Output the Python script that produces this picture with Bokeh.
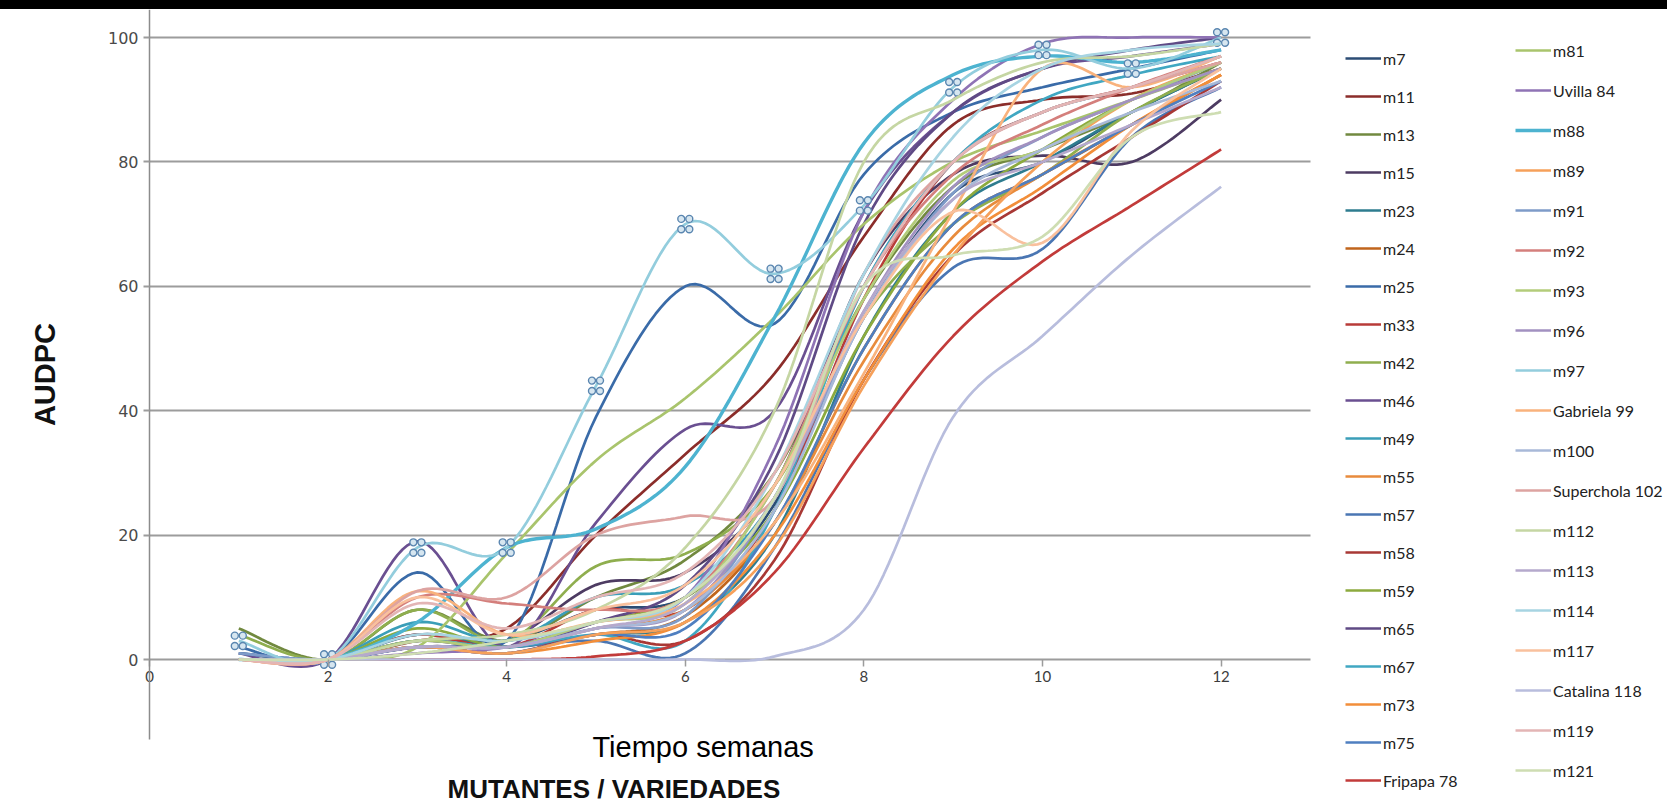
import numpy as np
from bokeh.plotting import figure
from bokeh.layouts import column
from bokeh.models import Range1d, Legend, LegendItem, Label, FixedTicker, Div, Grid
from bokeh.embed import file_html
from bokeh.resources import INLINE

# ---------------- data (AUDPC per week) ----------------
weeks = [1, 2, 3, 4, 5, 6, 7, 8, 9, 10, 11, 12]
x_ticks = [0, 2, 4, 6, 8, 10, 12]
y_ticks = [0, 20, 40, 60, 80, 100]

m7 = [1, 0, 4, 3, 8, 10, 25, 55, 75, 80, 88, 95]
m11 = [0, 0, 3, 5, 20, 33, 46, 68, 86, 90, 91, 95]
m13 = [5, 0, 8, 3, 10, 16, 30, 58, 76, 82, 88, 96]
m15 = [0, 0, 2, 3, 12, 14, 28, 62, 78, 81, 80, 90]
m23 = [0, 0, 4, 2, 4, 6, 20, 52, 72, 80, 88, 95]
m24 = [0, 0, 2, 2, 4, 7, 22, 50, 70, 78, 86, 94]
m25 = [2, 0, 14, 3, 39, 60, 54, 78, 88, 92, 95, 98]
m33 = [0, 0, 4, 2, 8, 8, 24, 58, 80, 88, 92, 96]
m42 = [4, 0, 8, 3, 15, 17, 28, 55, 70, 78, 88, 95]
m46 = [1, 0, 19, 2, 22, 37, 40, 72, 88, 95, 97, 99]
m49 = [0, 0, 6, 3, 10, 12, 26, 60, 80, 88, 92, 97]
m55 = [0, 0, 3, 2, 5, 8, 22, 48, 68, 78, 86, 94]
m57 = [1, 0, 2, 2, 3, 1, 18, 45, 63, 66, 84, 92]
m58 = [0, 0, 2, 1, 4, 3, 16, 45, 65, 75, 84, 93]
m59 = [0, 0, 5, 2, 6, 10, 24, 52, 72, 82, 90, 96]
m65 = [0, 0, 3, 2, 6, 12, 32, 70, 88, 95, 98, 100]
m67 = [0, 0, 3, 2, 4, 3, 24, 60, 80, 90, 94, 97]
m73 = [0, 0, 2, 1, 3, 6, 20, 45, 66, 76, 86, 94]
m75 = [0, 0, 2, 1, 4, 5, 22, 50, 70, 78, 86, 93]
fripapa_78 = [0, 0, 0, 0, 0.5, 3, 14, 34, 52, 64, 73, 82]
m81 = [0, 0, 2, 17, 32, 42, 55, 70, 80, 85, 90, 95]
uvilla_84 = [0, 0, 1, 2, 6, 10, 34, 72, 90, 99, 100, 100]
m88 = [0, 0, 6, 18, 21, 31, 55, 83, 94, 97, 96, 98]
m89 = [0, 0, 2, 1, 4, 6, 18, 44, 65, 80, 90, 96]
m91 = [1, 0, 2, 2, 5, 7, 26, 55, 75, 84, 90, 96]
m92 = [0, 0, 10, 9, 8, 10, 28, 60, 78, 86, 92, 97]
m93 = [0, 0, 3, 2, 6, 9, 28, 58, 77, 82, 90, 96]
m96 = [0, 0, 2, 2, 5, 8, 26, 56, 76, 84, 90, 95]
m97 = [3, 0, 18, 18, 44, 70, 62, 73, 92, 98, 95, 100]
gabriela_99 = [0, 0, 11, 4, 6, 9, 22, 46, 72, 95, 92, 97]
m100 = [0, 0, 2, 2, 5, 8, 24, 55, 74, 82, 88, 93]
superchola_102 = [0, 0, 11, 10, 20, 23, 26, 62, 80, 88, 92, 96]
m112 = [0, 0, 3, 4, 8, 18, 40, 80, 90, 96, 97, 99]
m113 = [0, 0, 2, 2, 5, 9, 26, 56, 74, 80, 86, 92]
m114 = [0, 0, 4, 3, 6, 10, 30, 62, 84, 95, 98, 99]
m117 = [0, 0, 10, 4, 8, 12, 28, 55, 72, 67, 85, 95]
catalina_118 = [0, 0, 0, 0, 0, 0, 0.5, 8, 39, 52, 65, 76]
m119 = [0, 0, 9, 5, 10, 14, 30, 60, 80, 88, 92, 97]
m121 = [0, 0, 1, 3, 6, 10, 26, 60, 65, 68, 84, 88]

names = ["m7", "m11", "m13", "m15", "m23", "m24", "m25", "m33", "m42", "m46",
         "m49", "m55", "m57", "m58", "m59", "m65", "m67", "m73", "m75", "Fripapa 78",
         "m81", "Uvilla 84", "m88", "m89", "m91", "m92", "m93", "m96", "m97",
         "Gabriela 99", "m100", "Superchola 102", "m112", "m113", "m114", "m117",
         "Catalina 118", "m119", "m121"]
series = [m7, m11, m13, m15, m23, m24, m25, m33, m42, m46,
          m49, m55, m57, m58, m59, m65, m67, m73, m75, fripapa_78,
          m81, uvilla_84, m88, m89, m91, m92, m93, m96, m97,
          gabriela_99, m100, superchola_102, m112, m113, m114, m117,
          catalina_118, m119, m121]
colors = ["#2C4D75", "#8B2D2A", "#71893F", "#4D3B62", "#2E7C8F", "#C0651C", "#3A6BA8",
          "#B83B38", "#8FAE4E", "#6A4F91", "#3A9EB8", "#E88B3C", "#4A76B3", "#A83835",
          "#8CAA3E", "#5F4A85", "#40A7C2", "#F28E3A", "#4F7FC0", "#C23B3A",
          "#A9C46C", "#8F73B5", "#4DB3D0", "#F6A05A", "#7E9BC8", "#D47F7C", "#B3CC7A",
          "#A291C0", "#93CDDD", "#F9B27C", "#A8B9D8", "#DDA3A1", "#C5D6A3", "#B5A9CC",
          "#A7D4E2", "#F9C09D", "#B8BDDD", "#E3B5B5", "#CEDDB2"]
selected = "m97"
x_title = "Tiempo semanas"
group_title = "MUTANTES / VARIEDADES"
y_title = "AUDPC"


def smooth(xs, ys, n=18):
    """Excel-style smoothed line (Bezier segments, Catmull-Rom tangents)."""
    pts = np.column_stack([np.asarray(xs, float), np.asarray(ys, float)])
    out = []
    last = len(pts) - 1
    for i in range(last):
        p0 = pts[i - 1] if i > 0 else pts[i]
        p1, p2 = pts[i], pts[i + 1]
        p3 = pts[i + 2] if i + 2 <= last else pts[i + 1]
        c1 = p1 + (p2 - p0) / 6.0
        c2 = p2 - (p3 - p1) / 6.0
        t = np.linspace(0, 1, n, endpoint=(i == last - 1))[:, None]
        seg = ((1 - t) ** 3) * p1 + 3 * ((1 - t) ** 2) * t * c1 + 3 * (1 - t) * t ** 2 * c2 + t ** 3 * p2
        out.append(seg)
    arr = np.vstack(out)
    return arr[:, 0], arr[:, 1]


# ---------------- geometry (page pixels) ----------------
PAGE_W = 1667
BAR = 9                     # black strip at the top of the page
H = 797                     # figure height (below the strip)
OX, OY = 149, 659           # pixel position of the origin (0, 0)
SX, SY = 89.3, 6.22         # pixels per unit on x and y
X0, X1 = -OX / SX, (PAGE_W - OX) / SX
Y0, Y1 = (OY - (BAR + H)) / SY, (OY - BAR) / SY
X_END = 13.0                # right end of the gridlines
Y_LOW = -12.9               # lower end of the y axis line

p = figure(width=PAGE_W, height=H, x_range=Range1d(X0, X1), y_range=Range1d(Y0, Y1),
           output_backend="svg", toolbar_location=None,
           min_border_left=0, min_border_right=0, min_border_top=0, min_border_bottom=0)
p.outline_line_color = None
p.background_fill_color = "white"
p.border_fill_color = "white"

# grid (horizontal lines only, limited to the chart area)
p.xgrid.grid_line_color = None
yg = p.ygrid[0]
yg.ticker = FixedTicker(ticks=y_ticks)
if "cross_bounds" in Grid.properties():
    yg.cross_bounds = (0, X_END)
    yg.grid_line_color = "#9c9c9c"
    yg.grid_line_width = 2
else:
    yg.grid_line_color = None
    p.segment(x0=[0] * len(y_ticks), x1=[X_END] * len(y_ticks), y0=y_ticks, y1=y_ticks,
              line_color="#9c9c9c", line_width=2)

# y axis at x = 0
ya = p.yaxis[0]
ya.fixed_location = 0
ya.bounds = (Y_LOW, Y1)
ya.ticker = FixedTicker(ticks=y_ticks)
ya.axis_line_color = "#8c8c8c"
ya.axis_line_width = 1.5
ya.major_tick_line_color = "#9c9c9c"
ya.major_tick_line_width = 2
ya.major_tick_out = 6
ya.major_tick_in = 0
ya.minor_tick_line_color = None
ya.major_label_standoff = 5
ya.major_label_text_font = "DejaVu Sans"
ya.major_label_text_font_size = "16px"
ya.major_label_text_color = "#4a4a4a"
ya.axis_label = y_title
ya.axis_label_text_font = "Liberation Sans"
ya.axis_label_text_font_style = "bold"
ya.axis_label_text_font_size = "29px"
ya.axis_label_text_color = "#111111"
ya.axis_label_standoff = 44

# x axis crossing at y = 0
xa = p.xaxis[0]
xa.fixed_location = 0
xa.bounds = (0, 12)
xa.ticker = FixedTicker(ticks=x_ticks)
xa.axis_line_color = None
xa.major_tick_line_color = "#9c9c9c"
xa.major_tick_line_width = 1.5
xa.major_tick_out = 7
xa.major_tick_in = 0
xa.minor_tick_line_color = None
xa.major_label_standoff = 4
xa.major_label_text_font = "Lato"
xa.major_label_text_font_size = "15px"
xa.major_label_text_color = "#3c3c3c"

# series
items = []
for name, ys, col in zip(names, series, colors):
    sx, sy = smooth(weeks, ys)
    lw = 3.4 if name == "m88" else 2.7
    r = p.line(sx, sy, line_color=col, line_width=lw)
    items.append(LegendItem(label=name, renderers=[r]))
    if name == selected:
        dx = 4.0 / SX
        dy = 5.2 / SY
        for ox in (-dx, dx):
            for oy in (-dy, dy):
                p.scatter([w + ox for w in weeks], [v + oy for v in ys], marker="circle", size=7,
                          line_color="#5A86B0", line_width=1.4, fill_color="#D6E6F0")

# axis titles below the chart
p.add_layout(Label(x=6.2, y=-14.1, text=x_title, text_align="center", text_baseline="middle",
                   text_font="Liberation Sans", text_font_size="29px", text_color="#000000"))
p.add_layout(Label(x=5.2, y=-20.9, text=group_title, text_align="center", text_baseline="middle",
                   text_font="Liberation Sans", text_font_size="26px", text_font_style="bold",
                   text_color="#111111"))

# legends (two columns on the right)
frame_bottom = BAR + H
common = dict(border_line_color=None, background_fill_alpha=0, label_text_font="Lato",
              label_text_font_size="16px", label_text_color="#222222", glyph_width=36,
              label_standoff=2, padding=0, margin=0, label_text_baseline="middle")
leg1 = Legend(items=items[:20], glyph_height=20, label_height=20, spacing=18,
              location=(1345, frame_bottom - 790), **common)
leg2 = Legend(items=items[20:], glyph_height=20, label_height=20, spacing=20,
              location=(1515, frame_bottom - 780), **common)
p.add_layout(leg1, "center")
p.add_layout(leg2, "center")

bar = Div(text="", width=PAGE_W, height=BAR, margin=0, styles={"background-color": "black"})
layout = column(bar, p, spacing=0)

open("out.html", "w").write(file_html(layout, INLINE))
